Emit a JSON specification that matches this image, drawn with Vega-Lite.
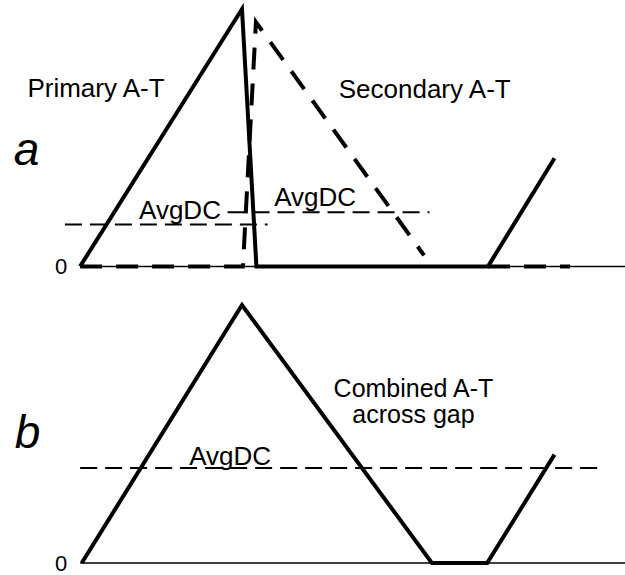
{
  "$schema": "https://vega.github.io/schema/vega-lite/v6.json",
  "padding": 0,
  "spacing": 0,
  "background": "white",
  "config": {"view": {"stroke": null}, "font": "Liberation Sans"},
  "resolve": {"scale": {"x": "independent", "y": "independent"}},
  "datasets": {
    "traces": [
      {"panel": "a", "series": "Primary A-T", "seg": 1, "t": 0, "v": 0},
      {"panel": "a", "series": "Primary A-T", "seg": 1, "t": 10.1, "v": 1},
      {"panel": "a", "series": "Primary A-T", "seg": 1, "t": 11.0, "v": 0},
      {"panel": "a", "series": "Primary A-T", "seg": 1, "t": 25.45, "v": 0},
      {"panel": "a", "series": "Primary A-T", "seg": 1, "t": 29.6, "v": 0.42},
      {"panel": "a", "series": "Secondary A-T", "seg": 1, "t": 0, "v": 0},
      {"panel": "a", "series": "Secondary A-T", "seg": 1, "t": 10.16, "v": 0},
      {"panel": "a", "series": "Secondary A-T", "seg": 1, "t": 10.97, "v": 0.949},
      {"panel": "a", "series": "Secondary A-T", "seg": 1, "t": 21.46, "v": 0.043},
      {"panel": "a", "series": "Secondary A-T", "seg": 2, "t": 25.45, "v": 0},
      {"panel": "a", "series": "Secondary A-T", "seg": 2, "t": 30.57, "v": 0},
      {"panel": "b", "series": "Combined A-T", "seg": 1, "t": 0.1, "v": 0},
      {"panel": "b", "series": "Combined A-T", "seg": 1, "t": 10.1, "v": 1},
      {"panel": "b", "series": "Combined A-T", "seg": 1, "t": 21.95, "v": 0},
      {"panel": "b", "series": "Combined A-T", "seg": 1, "t": 25.4, "v": 0},
      {"panel": "b", "series": "Combined A-T", "seg": 1, "t": 29.6, "v": 0.42}
    ],
    "avg": [
      {"panel": "a", "name": "Primary AvgDC", "t0": -0.95, "t1": 11.7, "v": 0.163},
      {"panel": "a", "name": "Secondary AvgDC", "t0": 9.2, "t1": 21.8, "v": 0.21},
      {"panel": "b", "name": "Combined AvgDC", "t0": 0, "t1": 32.3, "v": 0.368}
    ],
    "base": [
      {"panel": "a", "t0": 0, "t1": 34, "v": 0},
      {"panel": "b", "t0": 0, "t1": 34, "v": 0}
    ],
    "labels": [
      {"panel": "a", "kind": "label", "t": 0.99, "v": 0.658, "text": "Primary A-T"},
      {"panel": "a", "kind": "label", "t": 21.5, "v": 0.654, "text": "Secondary A-T"},
      {"panel": "a", "kind": "label", "t": 6.23, "v": 0.183, "text": "AvgDC"},
      {"panel": "a", "kind": "label", "t": 14.66, "v": 0.233, "text": "AvgDC"},
      {"panel": "a", "kind": "letter", "t": -3.35, "v": 0.393, "text": "a"},
      {"panel": "a", "kind": "zero", "t": -0.8, "v": 0, "text": "0"},
      {"panel": "b", "kind": "multi", "t": 20.8, "v": 0.645, "text": "Combined A-T\nacross gap"},
      {"panel": "b", "kind": "label", "t": 9.36, "v": 0.38, "text": "AvgDC"},
      {"panel": "b", "kind": "letter", "t": -3.28, "v": 0.446, "text": "b"},
      {"panel": "b", "kind": "zero", "t": -0.8, "v": 0, "text": "0"}
    ]
  },
  "vconcat": [
    {
      "width": 625,
      "height": 287,
      "layer": [
        {
          "data": {"name": "base"},
          "transform": [{"filter": "datum.panel === 'a'"}],
          "mark": {"type": "rule", "color": "black", "strokeWidth": 1.5},
          "encoding": {
            "x": {"field": "t0", "type": "quantitative", "scale": {"domain": [-5, 34], "nice": false, "zero": false}, "axis": null},
            "x2": {"field": "t1"},
            "y": {"field": "v", "type": "quantitative", "scale": {"domain": [-0.08, 1.035], "nice": false, "zero": false}, "axis": null}
          }
        },
        {
          "data": {"name": "avg"},
          "transform": [{"filter": "datum.panel === 'a'"}],
          "mark": {"type": "rule", "color": "black", "strokeWidth": 2, "strokeDash": [17, 8]},
          "encoding": {
            "x": {"field": "t0", "type": "quantitative"},
            "x2": {"field": "t1"},
            "y": {"field": "v", "type": "quantitative"}
          }
        },
        {
          "data": {"name": "traces"},
          "transform": [{"filter": "datum.panel === 'a' && datum.series === 'Primary A-T'"}],
          "mark": {"type": "line", "color": "black", "strokeWidth": 4},
          "encoding": {
            "x": {"field": "t", "type": "quantitative"},
            "y": {"field": "v", "type": "quantitative"},
            "detail": {"field": "seg"}
          }
        },
        {
          "data": {"name": "traces"},
          "transform": [{"filter": "datum.panel === 'a' && datum.series === 'Secondary A-T'"}],
          "mark": {"type": "line", "color": "black", "strokeWidth": 4, "strokeDash": [22, 14]},
          "encoding": {
            "x": {"field": "t", "type": "quantitative"},
            "y": {"field": "v", "type": "quantitative"},
            "detail": {"field": "seg"}
          }
        },
        {
          "data": {"name": "labels"},
          "transform": [{"filter": "datum.panel === 'a' && datum.kind === 'label'"}],
          "mark": {"type": "text", "color": "black", "fontSize": 26, "align": "center", "baseline": "alphabetic"},
          "encoding": {
            "x": {"field": "t", "type": "quantitative"},
            "y": {"field": "v", "type": "quantitative"},
            "text": {"field": "text"}
          }
        },
        {
          "data": {"name": "labels"},
          "transform": [{"filter": "datum.panel === 'a' && datum.kind === 'letter'"}],
          "mark": {"type": "text", "color": "black", "fontSize": 46, "fontStyle": "italic", "align": "center", "baseline": "alphabetic"},
          "encoding": {
            "x": {"field": "t", "type": "quantitative"},
            "y": {"field": "v", "type": "quantitative"},
            "text": {"field": "text"}
          }
        },
        {
          "data": {"name": "labels"},
          "transform": [{"filter": "datum.panel === 'a' && datum.kind === 'zero'"}],
          "mark": {"type": "text", "color": "black", "fontSize": 22, "align": "right", "baseline": "middle", "dy": 1},
          "encoding": {
            "x": {"field": "t", "type": "quantitative"},
            "y": {"field": "v", "type": "quantitative"},
            "text": {"field": "text"}
          }
        }
      ]
    },
    {
      "width": 625,
      "height": 288,
      "layer": [
        {
          "data": {"name": "base"},
          "transform": [{"filter": "datum.panel === 'b'"}],
          "mark": {"type": "rule", "color": "black", "strokeWidth": 1.5},
          "encoding": {
            "x": {"field": "t0", "type": "quantitative", "scale": {"domain": [-5, 34], "nice": false, "zero": false}, "axis": null},
            "x2": {"field": "t1"},
            "y": {"field": "v", "type": "quantitative", "scale": {"domain": [-0.0465, 1.07], "nice": false, "zero": false}, "axis": null}
          }
        },
        {
          "data": {"name": "avg"},
          "transform": [{"filter": "datum.panel === 'b'"}],
          "mark": {"type": "rule", "color": "black", "strokeWidth": 2, "strokeDash": [17, 8]},
          "encoding": {
            "x": {"field": "t0", "type": "quantitative"},
            "x2": {"field": "t1"},
            "y": {"field": "v", "type": "quantitative"}
          }
        },
        {
          "data": {"name": "traces"},
          "transform": [{"filter": "datum.panel === 'b'"}],
          "mark": {"type": "line", "color": "black", "strokeWidth": 4},
          "encoding": {
            "x": {"field": "t", "type": "quantitative"},
            "y": {"field": "v", "type": "quantitative"},
            "detail": {"field": "seg"}
          }
        },
        {
          "data": {"name": "labels"},
          "transform": [{"filter": "datum.panel === 'b' && datum.kind === 'label'"}],
          "mark": {"type": "text", "color": "black", "fontSize": 26, "align": "center", "baseline": "alphabetic"},
          "encoding": {
            "x": {"field": "t", "type": "quantitative"},
            "y": {"field": "v", "type": "quantitative"},
            "text": {"field": "text"}
          }
        },
        {
          "data": {"name": "labels"},
          "transform": [{"filter": "datum.panel === 'b' && datum.kind === 'multi'"}],
          "mark": {"type": "text", "color": "black", "fontSize": 25, "align": "center", "baseline": "alphabetic", "lineBreak": "\n", "lineHeight": 26},
          "encoding": {
            "x": {"field": "t", "type": "quantitative"},
            "y": {"field": "v", "type": "quantitative"},
            "text": {"field": "text"}
          }
        },
        {
          "data": {"name": "labels"},
          "transform": [{"filter": "datum.panel === 'b' && datum.kind === 'letter'"}],
          "mark": {"type": "text", "color": "black", "fontSize": 46, "fontStyle": "italic", "align": "center", "baseline": "alphabetic"},
          "encoding": {
            "x": {"field": "t", "type": "quantitative"},
            "y": {"field": "v", "type": "quantitative"},
            "text": {"field": "text"}
          }
        },
        {
          "data": {"name": "labels"},
          "transform": [{"filter": "datum.panel === 'b' && datum.kind === 'zero'"}],
          "mark": {"type": "text", "color": "black", "fontSize": 22, "align": "right", "baseline": "middle", "dy": 1},
          "encoding": {
            "x": {"field": "t", "type": "quantitative"},
            "y": {"field": "v", "type": "quantitative"},
            "text": {"field": "text"}
          }
        }
      ]
    }
  ]
}
